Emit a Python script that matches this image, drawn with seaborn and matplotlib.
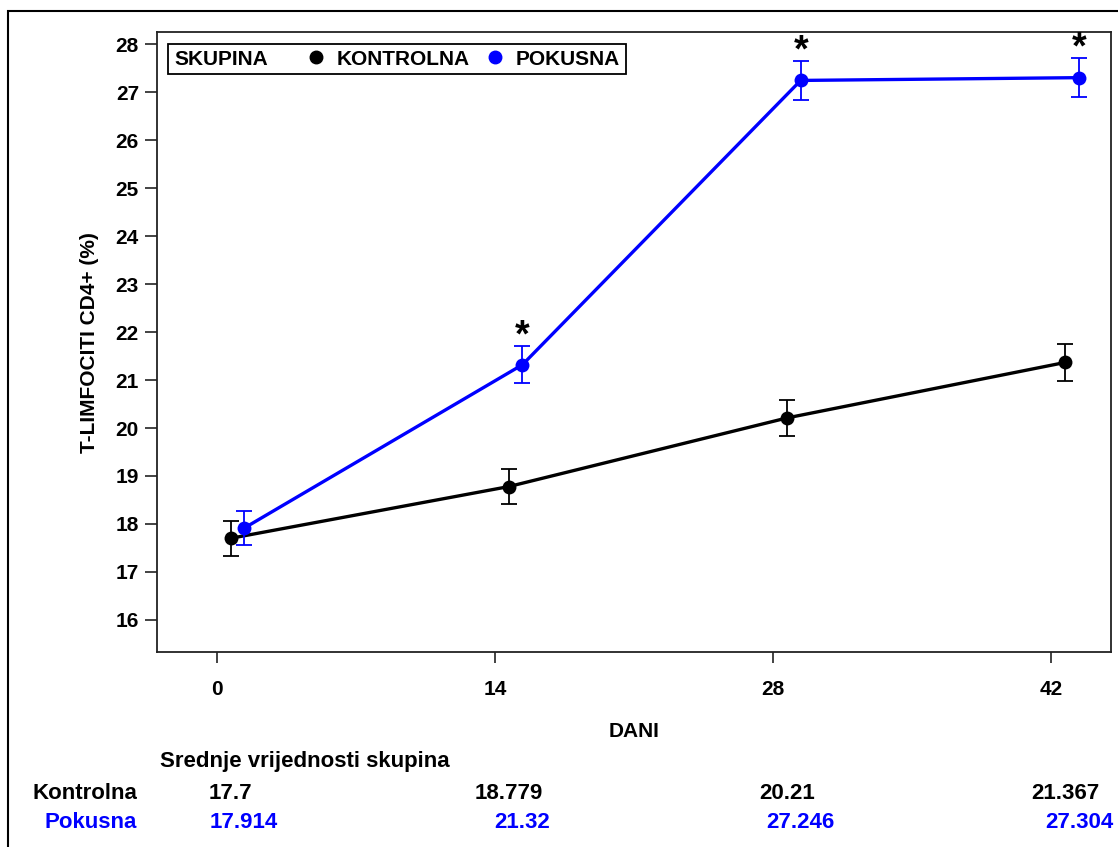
import pandas as pd
import numpy as np
import seaborn as sns
import matplotlib.pyplot as plt
from matplotlib.lines import Line2D
from matplotlib.patches import Rectangle
from matplotlib.offsetbox import HPacker

# Data
days = [0, 14, 28, 42]
kontrolna_mean = [17.7, 18.779, 20.21, 21.367]
pokusna_mean = [17.914, 21.32, 27.246, 27.304]
kontrolna_err = [0.36, 0.37, 0.38, 0.38]
pokusna_err = [0.36, 0.39, 0.41, 0.41]
significant = [False, True, True, True]  # asterisk above Pokusna

groups = ['Kontrolna', 'Pokusna']
colors = {'Kontrolna': 'black', 'Pokusna': '#0000ff'}
offsets = {'Kontrolna': 0.7, 'Pokusna': 1.39}

sns.set_style('ticks')
plt.rcParams['font.family'] = ['Liberation Sans', 'DejaVu Sans']
plt.rcParams['font.weight'] = 'bold'
plt.rcParams['text.color'] = 'black'
plt.rcParams['axes.labelcolor'] = 'black'

# Build long table for seaborn
rows = []
for g, means, errs in [('Kontrolna', kontrolna_mean, kontrolna_err),
                       ('Pokusna', pokusna_mean, pokusna_err)]:
    for d, m, e in zip(days, means, errs):
        rows.append({'day': d, 'x': d + offsets[g], 'mean': m, 'err': e, 'group': g})
df = pd.DataFrame(rows)

fig = plt.figure(figsize=(11.18, 8.47), dpi=100)
ax = fig.add_axes([0.1404, 0.2302, 0.8533, 0.7317])

sns.lineplot(data=df, x='x', y='mean', hue='group', palette=colors,
             marker='o', markersize=10, markeredgewidth=0, linewidth=2.4,
             errorbar=None, legend=False, ax=ax)

for g in groups:
    sub = df[df['group'] == g]
    ax.errorbar(sub['x'], sub['mean'], yerr=sub['err'], fmt='none',
                ecolor=colors[g], elinewidth=1.3, capsize=6, capthick=1.3)

# significance stars
pok = df[df['group'] == 'Pokusna'].reset_index(drop=True)
for i, sig in enumerate(significant):
    if sig:
        ax.text(pok.loc[i, 'x'], pok.loc[i, 'mean'] + pok.loc[i, 'err'] - 0.02, '*',
                ha='center', va='baseline', fontsize=27, fontweight='bold', color='black')

ax.set_xlim(-3, 45)
ax.set_ylim(15.33, 28.25)
ax.set_xticks(days)
ax.set_yticks(range(16, 29))
ax.tick_params(axis='both', labelsize=15, width=1.2, color='#222222', labelcolor='black')
ax.tick_params(axis='x', length=8, pad=12)
ax.tick_params(axis='y', length=9, pad=4)
for lbl in ax.get_xticklabels() + ax.get_yticklabels():
    lbl.set_fontweight('bold')
for s in ax.spines.values():
    s.set_visible(True)
    s.set_linewidth(1.3)
    s.set_color('#222222')

ax.set_xlabel('')
ax.set_ylabel('T-LIMFOCITI CD4+ (%)', fontsize=15, fontweight='bold', labelpad=12)
fig.text(0.567, 1 - 731 / 847, 'DANI', ha='center', va='center', fontsize=15, fontweight='bold')

# legend with title on the same row
handles = [Line2D([], [], marker='o', color=colors[g], linestyle='none', markersize=9) for g in groups]
leg = ax.legend(handles, [g.upper() for g in groups], title='SKUPINA', ncol=2,
                loc='upper left', borderaxespad=0.55, fontsize=15, title_fontsize=15,
                handlelength=0.8, handletextpad=0.6, columnspacing=0.8,
                borderpad=0.28, fancybox=False, edgecolor='black', framealpha=1)
leg.get_frame().set_linewidth(1.3)
leg.get_title().set_fontweight('bold')
fs = leg._fontsize
leg._legend_box = HPacker(pad=leg.borderpad * fs, sep=1.9 * fs, align='center',
                          children=[leg._legend_title_box, leg._legend_handle_box])
leg._legend_box.set_figure(fig)
leg._legend_box.axes = ax
leg._set_loc(leg._loc)

# table of group means below the plot
fig.text(160 / 1118, 1 - 761 / 847, 'Srednje vrijednosti skupina', ha='left', va='center',
         fontsize=16, fontweight='bold')
table_y = {'Kontrolna': 1 - 793 / 847, 'Pokusna': 1 - 822 / 847}
for g in groups:
    fig.text(137 / 1118, table_y[g], g, ha='right', va='center', fontsize=16,
             fontweight='bold', color=colors[g])
    sub = df[df['group'] == g]
    for xv, m in zip(sub['x'], sub['mean']):
        xf = fig.transFigure.inverted().transform(ax.transData.transform((xv, 0)))[0]
        fig.text(xf, table_y[g], f'{m:g}', ha='center', va='center', fontsize=16,
                 fontweight='bold', color=colors[g])

# outer frame
fig.patches.append(Rectangle((7.5 / 1118, -0.1), 1.2, 1.1 - 11.5 / 847,
                             transform=fig.transFigure, fill=False,
                             edgecolor='black', linewidth=1.5))

fig.savefig('out.png', dpi=100)
